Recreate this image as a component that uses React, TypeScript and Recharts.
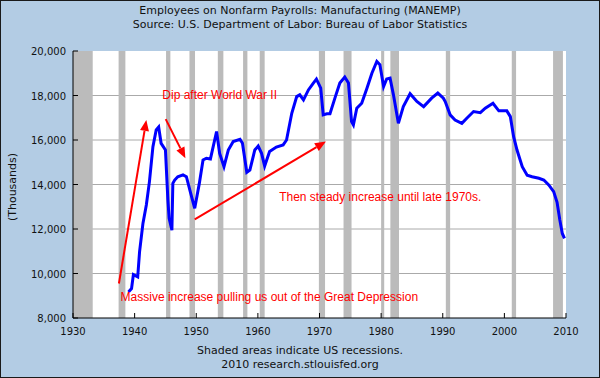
import {
  ComposedChart,
  Line,
  XAxis,
  YAxis,
  CartesianGrid,
  ReferenceArea,
  ReferenceLine,
  ReferenceDot,
} from "recharts";

// MANEMP, thousands of employees
const years = [
  1939.0, 1939.5, 1939.8, 1940.5, 1940.8, 1941.35, 1941.9, 1942.4, 1942.97, 1943.5,
  1943.9, 1944.3, 1945.0, 1945.4, 1945.6, 1946.05, 1946.2, 1946.5, 1947.0, 1947.85,
  1948.4, 1949.1, 1949.75, 1950.5, 1951.1, 1951.65, 1952.3, 1953.3, 1953.8, 1954.5,
  1955.2, 1956.0, 1957.1, 1957.5, 1958.2, 1958.7, 1959.5, 1960.05, 1960.6, 1961.1,
  1961.9, 1963.0, 1964.1, 1964.65, 1965.5, 1966.3, 1966.8, 1967.4, 1968.2, 1969.0,
  1969.5, 1970.2, 1970.6, 1971.2, 1971.7, 1972.5, 1973.3, 1974.1, 1974.7, 1975.2,
  1975.5, 1976.05, 1976.85, 1977.7, 1978.5, 1979.3, 1979.8, 1980.4, 1980.9, 1981.45,
  1982.0, 1982.8, 1983.6, 1984.7, 1985.8, 1986.9, 1988.2, 1989.2, 1990.1, 1990.4,
  1991.2, 1992.0, 1993.1, 1993.9, 1995.0, 1996.1, 1996.9, 1998.15, 1999.1, 2000.4,
  2000.97, 2001.5, 2002.05, 2002.9, 2003.7, 2004.5, 2005.6, 2006.4, 2007.2, 2008.0,
  2008.55, 2009.0, 2009.4, 2009.75,
];
const employees = [
  9170, 9320, 9950, 9850, 10970, 12250, 13080, 14120, 15700, 16450,
  16580, 15850, 15550, 13300, 12480, 11950, 14050, 14200, 14350, 14430,
  14350, 13600, 12930, 14050, 15100, 15180, 15150, 16380, 15400, 14800,
  15550, 15930, 16030, 15850, 14550, 14650, 15550, 15730, 15400, 14830,
  15480, 15680, 15780, 16000, 17200, 17950, 18030, 17800, 18250, 18560,
  18740, 18330, 17130, 17180, 17180, 17880, 18560, 18830, 18560, 16830,
  16680, 17430, 17650, 18330, 19000, 19530, 19380, 18400, 18740, 18780,
  18030, 16750, 17500, 18080, 17730, 17500, 17880, 18110, 17880, 17730,
  17130, 16900, 16750, 16980, 17280, 17230, 17430, 17650, 17310, 17310,
  17050, 16150, 15550, 14800, 14420, 14350, 14280, 14200, 13980, 13680,
  13200, 12400, 11800, 11580,
];

const xTicks = [1930, 1940, 1950, 1960, 1970, 1980, 1990, 2000, 2010];
const yTicks = [8000, 10000, 12000, 14000, 16000, 18000, 20000];
const gridValues = [10000, 12000, 14000, 16000, 18000];

// US recessions (NBER), in decimal years
const recessionStarts = [1930, 1937.4, 1945.1, 1948.9, 1953.5, 1957.6, 1960.3, 1969.9, 1973.9, 1980.0, 1981.5, 1990.5, 2001.2, 2007.9];
const recessionEnds = [1933.2, 1938.5, 1945.8, 1949.8, 1954.4, 1958.3, 1961.1, 1970.9, 1975.2, 1980.5, 1982.9, 1991.2, 2001.9, 2009.5];

const data = years.map((year, i) => ({ year, value: employees[i] }));
const recessions = recessionStarts.map((start, i) => ({ start, end: recessionEnds[i] }));

// annotations, in data coordinates
const arrows = [
  { from: { x: 1937.45, y: 9550 }, to: { x: 1941.9, y: 16900 } },
  { from: { x: 1945.04, y: 16940 }, to: { x: 1948.24, y: 15180 } },
  { from: { x: 1949.75, y: 12430 }, to: { x: 1971.05, y: 15930 } },
];
const notes = [
  { x: 1944.5, y: 17840, text: "Dip after World War II" },
  { x: 1963.46, y: 13260, text: "Then steady increase until late 1970s." },
  { x: 1937.72, y: 8750, text: "Massive increase pulling us out of the Great Depression" },
];

const axisFont = "'DejaVu Sans', Verdana, sans-serif";
const red = "#FF0000";
const ink = "#111";

const fmt = (v: number) => String(v).replace(/\B(?=(\d{3})+(?!\d))/g, ",");

function XTick(props: any) {
  const { x, y, payload } = props;
  return (
    <g>
      <line x1={x} y1={y} x2={x} y2={y - 5} stroke="#000" />
      <text x={x} y={y + 17} textAnchor="middle" fontSize={10} fill={ink} fontFamily={axisFont}>
        {payload.value}
      </text>
    </g>
  );
}

function YTick(props: any) {
  const { x, y, payload } = props;
  return (
    <g>
      <line x1={x} y1={y} x2={x + 5} y2={y} stroke="#000" />
      <text x={x - 7} y={y + 4} textAnchor="end" fontSize={10} fill={ink} fontFamily={axisFont}>
        {fmt(payload.value)}
      </text>
    </g>
  );
}

function Arrow(props: any) {
  const { x1, y1, x2, y2 } = props;
  const a = Math.atan2(y2 - y1, x2 - x1);
  const len = 11;
  const half = 4.5;
  const bx = x2 - len * Math.cos(a);
  const by = y2 - len * Math.sin(a);
  const nx = -Math.sin(a) * half;
  const ny = Math.cos(a) * half;
  return (
    <g>
      <line x1={x1} y1={y1} x2={bx} y2={by} stroke={red} strokeWidth={2} />
      <polygon points={`${x2},${y2} ${bx + nx},${by + ny} ${bx - nx},${by - ny}`} fill={red} />
    </g>
  );
}

function Note(text: string) {
  return (props: any) => (
    <text x={props.cx} y={props.cy} fontSize={12} fill={red} fontFamily="'Liberation Sans', Arial, sans-serif">
      {text}
    </text>
  );
}

const center = { position: "absolute" as const, left: 0, width: 600, textAlign: "center" as const, fontFamily: axisFont, fontSize: 11, color: ink, lineHeight: "14px" };

export default function App() {
  return (
    <div style={{ position: "absolute", left: 0, top: 0, width: 600, height: 378, background: "#B3CCE4" }}>
      <ComposedChart width={600} height={378} data={data} margin={{ top: 51, right: 34, left: 0, bottom: 0 }}>
        <CartesianGrid vertical={false} horizontalValues={gridValues} stroke="#AAAAAA" fill="#FFFFFF" fillOpacity={1} />
        {recessions.map((r) => (
          <ReferenceArea key={r.start} x1={r.start} x2={r.end} y1={8000} y2={20000} fill="#BBBBBB" fillOpacity={1} stroke="none" />
        ))}
        <XAxis
          dataKey="year"
          type="number"
          domain={[1930, 2010]}
          ticks={xTicks}
          interval={0}
          height={60}
          tickSize={0}
          tickMargin={0}
          tick={<XTick />}
          axisLine={{ stroke: "#000" }}
        />
        <YAxis
          type="number"
          domain={[8000, 20000]}
          ticks={yTicks}
          interval={0}
          width={73}
          tickSize={0}
          tickMargin={0}
          tick={<YTick />}
          axisLine={{ stroke: "#000" }}
        />
        <Line type="linear" dataKey="value" stroke="#0000FF" strokeWidth={3} dot={false} isAnimationActive={false} />
        {arrows.map((a, i) => (
          <ReferenceLine key={i} segment={[a.from, a.to]} shape={Arrow} />
        ))}
        {notes.map((n) => (
          <ReferenceDot key={n.text} x={n.x} y={n.y} r={0} shape={Note(n.text)} />
        ))}
      </ComposedChart>
      <div style={{ ...center, top: 4 }}>Employees on Nonfarm Payrolls: Manufacturing (MANEMP)</div>
      <div style={{ ...center, top: 18 }}>Source: U.S. Department of Labor: Bureau of Labor Statistics</div>
      <div style={{ ...center, top: 344 }}>Shaded areas indicate US recessions.</div>
      <div style={{ ...center, top: 358 }}>2010 research.stlouisfed.org</div>
      <div
        style={{
          position: "absolute",
          left: 12,
          top: 187,
          transform: "translate(-50%, -50%) rotate(-90deg)",
          fontFamily: axisFont,
          fontSize: 11,
          color: ink,
          whiteSpace: "nowrap",
        }}
      >
        (Thousands)
      </div>
      <div style={{ position: "absolute", left: 0, top: 0, width: 600, height: 378, boxSizing: "border-box", border: "1px solid #1a1a1a", pointerEvents: "none" }} />
    </div>
  );
}
